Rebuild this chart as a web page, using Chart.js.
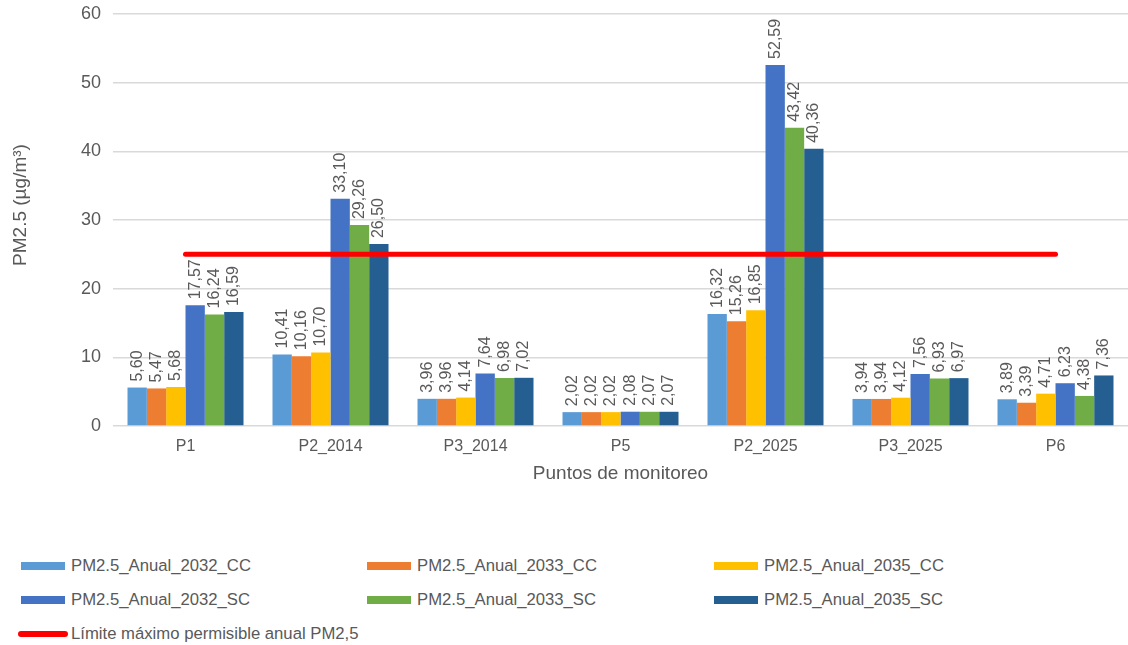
<!DOCTYPE html>
<html>
<head>
<meta charset="utf-8">
<script src="https://cdn.jsdelivr.net/npm/chart.js@4.4.1/dist/chart.umd.min.js"></script>
<style>
  body { margin: 0; background: #fff; font-family: "Liberation Sans", Arial, sans-serif; }
  #wrap { position: relative; width: 1128px; height: 645px; }
  #chartBox { position: absolute; left: 0; top: 0; width: 1128px; height: 490px; }
  .leg { position: absolute; font-size: 16.7px; color: #595959; white-space: nowrap; line-height: 18px; }
  .sw { position: absolute; height: 8px; }
</style>
</head>
<body>
<div id="wrap">
  <div id="chartBox"><canvas id="pmChart"></canvas></div>
  <div id="legend"></div>
</div>
<script>
// ========== DATA ==========
const puntos = ["P1", "P2_2014", "P3_2014", "P5", "P2_2025", "P3_2025", "P6"];

const anual2032CC = [5.60, 10.41, 3.96, 2.02, 16.32, 3.94, 3.89];
const anual2033CC = [5.47, 10.16, 3.96, 2.02, 15.26, 3.94, 3.39];
const anual2035CC = [5.68, 10.70, 4.14, 2.02, 16.85, 4.12, 4.71];
const anual2032SC = [17.57, 33.10, 7.64, 2.08, 52.59, 7.56, 6.23];
const anual2033SC = [16.24, 29.26, 6.98, 2.07, 43.42, 6.93, 4.38];
const anual2035SC = [16.59, 26.50, 7.02, 2.07, 40.36, 6.97, 7.36];

const limiteAnual = [25, 25, 25, 25, 25, 25, 25];

const yTicks = [0, 10, 20, 30, 40, 50, 60];

const seriesNames = [
  "PM2.5_Anual_2032_CC", "PM2.5_Anual_2033_CC", "PM2.5_Anual_2035_CC",
  "PM2.5_Anual_2032_SC", "PM2.5_Anual_2033_SC", "PM2.5_Anual_2035_SC",
];
const limiteName = "Límite máximo permisible anual PM2,5";
const yTitle = "PM2.5 (µg/m³)";

const seriesColors = ["#5B9BD5", "#ED7D31", "#FFC000", "#4472C4", "#70AD47", "#255E91"];
const textColor = "#595959";
const gridColor = "#D9D9D9";

const seriesData = [anual2032CC, anual2033CC, anual2035CC, anual2032SC, anual2033SC, anual2035SC];

// ========== DATA LABELS (rotated, comma decimals) ==========
const fmt = (v) => v.toFixed(2).replace(".", ",");

const barLabels = {
  id: "barLabels",
  afterDatasetDraw(chart, args) {
    const meta = args.meta;
    if (meta.type !== "bar") return;
    const ctx = chart.ctx;
    const values = chart.data.datasets[args.index].data;
    ctx.save();
    ctx.fillStyle = textColor;
    ctx.font = '16px "Liberation Sans", Arial, sans-serif';
    ctx.textAlign = "left";
    ctx.textBaseline = "middle";
    meta.data.forEach((bar, i) => {
      ctx.save();
      ctx.translate(bar.x, bar.y - 6);
      ctx.rotate(-Math.PI / 2);
      ctx.fillText(fmt(values[i]), 0, 0);
      ctx.restore();
    });
    ctx.restore();
  },
};

// y title sits a bit above the plot's middle, like the original
const yTitlePlugin = {
  id: "yTitle",
  afterDraw(chart) {
    const { ctx, chartArea } = chart;
    ctx.save();
    ctx.fillStyle = textColor;
    ctx.font = '19px "Liberation Sans", Arial, sans-serif';
    ctx.textAlign = "center";
    ctx.textBaseline = "middle";
    ctx.translate(21, (chartArea.top + chartArea.bottom) / 2 - 15);
    ctx.rotate(-Math.PI / 2);
    ctx.fillText(yTitle, 0, 0);
    ctx.restore();
  },
};

const barSets = seriesNames.map((name, i) => ({
  type: "bar",
  label: name,
  data: seriesData[i],
  backgroundColor: seriesColors[i],
  borderWidth: 0,
  categoryPercentage: 0.8,
  barPercentage: 1.0,
  order: 1,
}));

const limiteSet = {
  type: "line",
  label: limiteName,
  data: limiteAnual,
  borderColor: "#FF0000",
  borderWidth: 5,
  borderCapStyle: "round",
  pointRadius: 0,
  fill: false,
  tension: 0,
  order: 0,
};

const ctx = document.getElementById("pmChart").getContext("2d");
new Chart(ctx, {
  data: { labels: puntos, datasets: [...barSets, limiteSet] },
  plugins: [barLabels, yTitlePlugin],
  options: {
    responsive: true,
    maintainAspectRatio: false,
    animation: false,
    layout: { padding: { left: 10, right: 0, top: 14, bottom: 5 } },
    plugins: {
      legend: { display: false },
      tooltip: { enabled: false },
    },
    scales: {
      x: {
        grid: { display: false, drawTicks: false },
        border: { display: false },
        ticks: {
          color: textColor,
          font: { family: "Liberation Sans", size: 16 },
          padding: 11,
          maxRotation: 0,
        },
        title: {
          display: true,
          text: "Puntos de monitoreo",
          color: textColor,
          font: { family: "Liberation Sans", size: 19 },
          padding: { top: -5, bottom: 0 },
        },
      },
      y: {
        min: 0,
        max: 60,
        afterBuildTicks(scale) {
          scale.ticks = yTicks.map((v) => ({ value: v }));
        },
        afterFit(scale) {
          scale.width = 103;
          scale.paddingTop = 0;
          scale.paddingBottom = 0;
        },
        grid: { color: gridColor, lineWidth: 1.5, drawTicks: false },
        border: { display: false },
        ticks: {
          color: textColor,
          font: { family: "Liberation Sans", size: 18 },
          padding: 12,
        },
        title: { display: false },
      },
    },
  },
});

// ========== HTML LEGEND (3 columns) ==========
const legendEl = document.getElementById("legend");
const colX = [21, 367, 714];
const rowY = [566, 600, 634];

function addItem(swLeft, swWidth, cy, color, text, round) {
  const sw = document.createElement("div");
  sw.className = "sw";
  sw.style.left = swLeft + "px";
  sw.style.width = swWidth + "px";
  sw.style.top = (cy - (round ? 3 : 4)) + "px";
  sw.style.height = (round ? 6 : 8) + "px";
  sw.style.background = color;
  if (round) sw.style.borderRadius = "3px";
  legendEl.appendChild(sw);

  const lab = document.createElement("div");
  lab.className = "leg";
  lab.style.left = (swLeft + swWidth + (round ? 3 : 6)) + "px";
  lab.style.top = (cy - 9) + "px";
  lab.textContent = text;
  legendEl.appendChild(lab);
}

seriesNames.forEach((name, i) => {
  addItem(colX[i % 3], 44, rowY[Math.floor(i / 3)], seriesColors[i], name, false);
});
addItem(18, 50, rowY[2], "#FF0000", limiteName, true);
</script>
</body>
</html>
